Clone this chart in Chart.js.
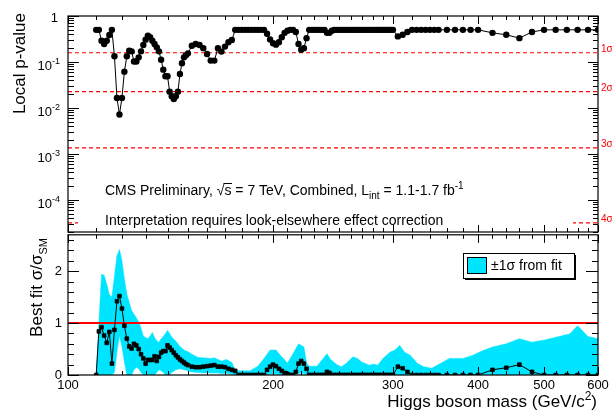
<!DOCTYPE html>
<html><head><meta charset="utf-8">
<script src="https://cdn.jsdelivr.net/npm/chart.js@4.4.0/dist/chart.umd.min.js"></script>
<style>
html,body{margin:0;padding:0;background:#fff;width:612px;height:412px;overflow:hidden;}
#wrap{position:relative;width:612px;height:412px;background:#fff;}
canvas{position:absolute;left:0;}
#cTop{top:0;}
#cBot{top:230px;}
</style></head><body>
<div id="wrap">
<canvas id="cTop" width="612" height="236"></canvas>
<canvas id="cBot" width="612" height="182"></canvas>
</div>
<script>
// ---------------- data ----------------
const masses = [110,111,112,113,114,115,116,117,118,119,120,121,122,123,124,125,126,127,128,129,130,
  131,132,133,134,135,136,137,138,139,140,141,142,143,144,145,146,147,148,149,150,
  152,154,156,158,160,162,164,166,168,170,172,174,176,178,180,182,184,186,188,190,
  192,194,196,198,200,202,204,206,208,210,212,214,216,218,220,222,224,226,228,230,
  232,234,236,238,240,242,244,246,248,250,252,254,256,258,260,262,264,266,268,270,
  272,274,276,278,280,282,284,286,288,290,292,294,296,298,300,
  305,310,315,320,325,330,335,340,345,350,360,370,380,390,400,
  420,440,460,480,500,520,540,560,580,600];
const pValue = [0.5,0.5,0.29,0.246,0.29,0.386,0.5,0.133,0.0165,0.0072,0.0165,0.0616,0.133,0.176,0.17,0.102,0.102,0.126,0.17,0.234,0.306,
  0.373,0.344,0.29,0.246,0.208,0.17,0.112,0.068,0.049,0.049,0.0226,0.0179,0.0157,0.0179,0.0226,0.0548,0.0935,0.126,0.14,0.154,
  0.226,0.246,0.234,0.2,0.149,0.107,0.107,0.2,0.168,0.216,0.268,0.30,0.5,0.5,0.5,0.5,0.5,0.5,0.5,0.5,
  0.5,0.5,0.41,0.31,0.255,0.238,0.268,0.344,0.43,0.48,0.5,0.5,0.45,0.246,0.185,0.2,0.33,0.5,0.5,0.5,
  0.5,0.5,0.5,0.5,0.43,0.43,0.48,0.5,0.5,0.5,0.5,0.5,0.5,0.5,0.5,0.5,0.5,0.5,0.5,0.5,
  0.5,0.5,0.5,0.5,0.5,0.5,0.5,0.5,0.5,0.5,0.5,0.5,0.5,0.5,0.5,
  0.36,0.39,0.45,0.5,0.5,0.5,0.5,0.5,0.5,0.5,0.5,0.5,0.5,0.5,0.5,
  0.43,0.39,0.33,0.45,0.5,0.5,0.5,0.5,0.5,0.5];
const bestFit = [0,0.84,0.92,0.76,0.62,0.83,0.22,0.87,1.42,1.52,1.28,0.95,0.70,0.55,0.51,0.60,0.57,0.50,0.40,0.32,0.22,
  0.29,0.29,0.29,0.36,0.27,0.35,0.43,0.46,0.46,0.57,0.53,0.48,0.43,0.38,0.34,0.30,0.27,0.24,0.21,0.19,
  0.16,0.15,0.15,0.16,0.17,0.18,0.19,0.16,0.16,0.15,0.12,0.10,0.08,0,0,0,0,0,0,0,
  0,0,0.10,0.16,0.20,0.17,0.12,0.08,0.04,0.02,0,0,0.06,0.22,0.27,0.22,0.12,0,0,0,
  0,0,0,0,0.06,0.04,0,0,0,0,0,0,0,0,0,0,0,0,0,0,
  0,0,0,0,0,0,0,0,0,0,0,0,0,0,0,
  0.16,0.13,0.06,0,0,0,0,0,0,0,0,0,0,0,0,
  0.10,0.14,0.20,0.06,0,0,0,0,0,0];
const bandMass = [110,111,112,113,114,115,116,117,118,119,120,121,122,123,124,125,126,127,128,129,130,
  131,132,133,134,135,136,137,138,139,140,141,142,144,146,148,150,152,155,158,162,164,166,168,171,174,
  176,178,185,190,194,198,202,205,210,214,218,222,224,226,232,237,240,243,248,252,256,262,266,270,
  277,281,285,290,297,302,307,312,318,326,333,342,352,363,380,393,405,420,440,460,480,503,533,545,560,580,600];
const bandLo = [0,0,0,0,0,0,0,0.05,0.45,0.75,0.55,0.25,0,0,0,0.10,0.15,0.12,0.05,0,0,
  0,0,0,0,0.05,0.10,0.08,0.05,0,0,0,0.05,0.10,0.12,0.10,0.08,0.06,0.05,0.04,0.04,0.04,0.04,0.03,0.03,0.02,
  0,0,0,0,0,0.02,0.02,0,0,0,0.03,0.03,0,0,0,0,0,0,0,0,0,0,0,0,
  0,0,0,0,0,0,0,0,0,0,0,0,0,0,0,0,0,0,0,0,0,0,0,0,0,0,0];
const bandHi = [0,1.0,1.94,1.92,1.75,1.55,1.5,1.9,2.3,2.42,2.2,1.85,1.56,1.4,1.24,1.17,1.1,1.02,0.9,0.75,0.72,
  0.7,0.75,0.82,0.72,0.66,0.63,0.7,0.74,0.8,0.86,0.8,0.73,0.65,0.55,0.48,0.45,0.40,0.34,0.33,0.32,0.33,0.30,0.27,0.30,0.24,
  0.10,0.08,0.08,0.17,0.32,0.48,0.48,0.38,0.23,0.41,0.60,0.54,0.23,0.17,0.17,0.32,0.41,0.30,0.20,0.16,0.22,0.35,0.32,0.25,
  0.19,0.21,0.19,0.32,0.44,0.48,0.57,0.44,0.38,0.22,0.16,0.13,0.22,0.32,0.32,0.38,0.46,0.54,0.60,0.70,0.63,0.68,0.76,0.79,0.95,0.74,0.70];
const sigmaP = [0.1587, 0.02275, 0.00135, 3.17e-5];
const sigmaLabels = ['1σ','2σ','3σ','4σ'];
const smLine = [1, 1];
const xLabelVals = [100,200,300,400,500,600];
const xMinorVals = [110,120,130,140,150,160,170,180,190,210,220,230,240,250,260,270,280,290,320,340,360,380,420,440,460,480,520,540,560,580];
const pDecades = [1, 0.1, 0.01, 0.001, 0.0001];
const pExponents = ['', '-1', '-2', '-3', '-4'];
const fitMajor = [0, 1, 2];
const fitMinor = [0.2,0.4,0.6,0.8,1.2,1.4,1.6,1.8,2.2,2.4,2.6];

// ---------------- helpers ----------------
const FONT = '"Liberation Sans", Arial, Helvetica, sans-serif';
const f = s => s + 'px ' + FONT;
const CYAN = 'rgb(0,229,255)';
const RED = 'rgb(255,0,0)';

function pMinor() {
  const out = [];
  for (let e = -5; e <= -1; e++) for (let k = 2; k <= 9; k++) out.push(k * Math.pow(10, e));
  return out.filter(v => v >= 2e-5 && v < 1);
}

function xTicks(ctx, xs, y, dir, maj, min) {
  ctx.beginPath();
  xLabelVals.forEach(v => { const p = Math.round(xs.getPixelForValue(v)) + 0.5; ctx.moveTo(p, y); ctx.lineTo(p, y + dir * maj); });
  xMinorVals.forEach(v => { const p = Math.round(xs.getPixelForValue(v)) + 0.5; ctx.moveTo(p, y); ctx.lineTo(p, y + dir * min); });
  ctx.stroke();
}
function yTicks(ctx, ys, x, dir, majVals, minVals, maj, min) {
  ctx.beginPath();
  majVals.forEach(v => { const p = Math.round(ys.getPixelForValue(v)) + 0.5; ctx.moveTo(x, p); ctx.lineTo(x + dir * maj, p); });
  minVals.forEach(v => { const p = Math.round(ys.getPixelForValue(v)) + 0.5; ctx.moveTo(x, p); ctx.lineTo(x + dir * min, p); });
  ctx.stroke();
}
function pieces(ctx, x, y, list) {
  list.forEach(pc => {
    ctx.font = f(pc.s);
    const w = ctx.measureText(pc.t).width;
    ctx.fillText(pc.t, x, y + (pc.dy || 0));
    if (pc.over) {
      ctx.save(); ctx.lineWidth = 1; ctx.beginPath();
      ctx.moveTo(x - 1, y - 11.5); ctx.lineTo(x + w + 0.5, y - 11.5); ctx.stroke(); ctx.restore();
    }
    x += w;
  });
  return x;
}
function widthOf(ctx, list) {
  let w = 0; list.forEach(pc => { ctx.font = f(pc.s); w += ctx.measureText(pc.t).width; }); return w;
}

// ---------------- top panel ----------------
const topDeco = {
  id: 'topDeco',
  afterDatasetsDraw(chart) {
    const {ctx, chartArea: a, scales: {x, y}} = chart;
    ctx.save();
    // text pave (white)
    ctx.fillStyle = '#fff';
    ctx.fillRect(78, 160, 495, 68);
    ctx.fillStyle = '#000'; ctx.strokeStyle = '#000';
    ctx.textBaseline = 'alphabetic'; ctx.textAlign = 'left';
    pieces(ctx, 105, 195, [
      {t: 'CMS Preliminary, ', s: 14}, {t: '√', s: 14}, {t: 's', s: 14, over: true},
      {t: ' = 7 TeV, Combined, L', s: 14}, {t: 'int', s: 10, dy: 4},
      {t: ' = 1.1-1.7 fb', s: 14}, {t: '-1', s: 10, dy: -6}]);
    ctx.font = f(14);
    ctx.fillText('Interpretation requires look-elsewhere effect correction', 105, 225);
    // sigma labels
    ctx.fillStyle = RED; ctx.font = f(10);
    sigmaP.forEach((p, i) => { ctx.fillText(sigmaLabels[i], 601, y.getPixelForValue(p) - 1); });
    // frame
    ctx.strokeStyle = '#000'; ctx.lineWidth = 1.2;
    ctx.strokeRect(a.left, a.top, a.right - a.left, a.bottom - a.top);
    ctx.lineWidth = 1;
    xTicks(ctx, x, a.top, 1, 8, 4);
    xTicks(ctx, x, a.bottom, -1, 7, 4);
    const mn = pMinor();
    yTicks(ctx, y, a.left, 1, pDecades, mn, 11, 6);
    yTicks(ctx, y, a.right, -1, pDecades, mn, 10, 5);
    // y labels
    ctx.fillStyle = '#000'; ctx.textAlign = 'right';
    pDecades.forEach((v, i) => {
      const py = y.getPixelForValue(v);
      if (!pExponents[i]) { ctx.font = f(13); ctx.fillText('1', 58, py + 6); return; }
      ctx.font = f(9); const ew = ctx.measureText(pExponents[i]).width;
      ctx.fillText(pExponents[i], 60, py + 2);
      ctx.font = f(13); ctx.fillText('10', 60 - ew, py + 8.5);
    });
    // y title
    ctx.save(); ctx.translate(25, 13); ctx.rotate(-Math.PI / 2);
    ctx.textAlign = 'right'; ctx.font = f(17); ctx.fillText('Local p-value', 0, 0);
    ctx.restore();
    ctx.restore();
  }
};

const topDatasets = [{
  data: masses.map((m, i) => ({x: m, y: pValue[i]})),
  borderColor: '#000', backgroundColor: '#000', borderWidth: 1,
  pointRadius: 3.2, pointBorderWidth: 0, pointBackgroundColor: '#000', tension: 0
}];
sigmaP.forEach(p => topDatasets.push({
  data: [{x: 100, y: p}, {x: 600, y: p}], borderColor: RED, backgroundColor: RED, borderWidth: 1.2,
  borderDash: [4, 3], pointRadius: 0, tension: 0, fill: false
}));

new Chart(document.getElementById('cTop'), {
  type: 'line',
  data: {datasets: topDatasets},
  options: {
    responsive: false, animation: false, events: [],
    layout: {padding: {left: 68, right: 14, top: 16, bottom: 3}},
    plugins: {legend: {display: false}, tooltip: {enabled: false}},
    scales: {
      x: {type: 'logarithmic', min: 100, max: 600, display: false},
      y: {type: 'logarithmic', min: 2e-5, max: 1, display: false}
    }
  },
  plugins: [topDeco]
});

// ---------------- bottom panel ----------------
const botDeco = {
  id: 'botDeco',
  afterDatasetsDraw(chart) {
    const {ctx, chartArea: a, scales: {x, y}} = chart;
    ctx.save();
    ctx.strokeStyle = '#000'; ctx.lineWidth = 1.2;
    ctx.strokeRect(a.left, a.top, a.right - a.left, a.bottom - a.top);
    ctx.lineWidth = 1;
    xTicks(ctx, x, a.top, 1, 8, 4);
    xTicks(ctx, x, a.bottom, -1, 8, 4);
    yTicks(ctx, y, a.left, 1, fitMajor, fitMinor, 11, 6);
    yTicks(ctx, y, a.right, -1, fitMajor, fitMinor, 12, 6);
    // legend
    const lx = 463, ly = 23, lw = 111, lh = 25;
    ctx.fillStyle = '#000'; ctx.fillRect(lx + 2, ly + 2, lw, lh);
    ctx.fillStyle = '#fff'; ctx.fillRect(lx, ly, lw, lh);
    ctx.strokeRect(lx + 0.5, ly + 0.5, lw, lh);
    ctx.fillStyle = CYAN; ctx.fillRect(467, 27, 19, 16);
    ctx.strokeRect(467.5, 27.5, 19, 16);
    ctx.fillStyle = '#000'; ctx.font = f(14); ctx.textAlign = 'left'; ctx.textBaseline = 'alphabetic';
    ctx.fillText('±1σ from fit', 491, 40);
    // y title
    const yt = [{t: 'Best fit σ/σ', s: 17}, {t: 'SM', s: 11, dy: 5}];
    const w = widthOf(ctx, yt);
    ctx.save(); ctx.translate(42, 8); ctx.rotate(-Math.PI / 2);
    pieces(ctx, -w, 0, yt);
    ctx.restore();
    // x title
    const xt = [{t: 'Higgs boson mass (GeV/c', s: 17}, {t: '2', s: 12, dy: -7}, {t: ')', s: 17}];
    const wx = widthOf(ctx, xt);
    pieces(ctx, 597 - wx, 176.5, xt);
    ctx.restore();
  }
};

new Chart(document.getElementById('cBot'), {
  type: 'line',
  data: {datasets: [
    {data: masses.map((m, i) => ({x: m, y: bestFit[i]})), borderColor: '#000', backgroundColor: '#000',
     borderWidth: 1, pointStyle: 'rect', pointRadius: 2.6, pointBorderWidth: 0.8, pointBackgroundColor: '#000', tension: 0},
    {data: [{x: 100, y: smLine[0]}, {x: 600, y: smLine[1]}], borderColor: RED, borderWidth: 2, pointRadius: 0, tension: 0},
    {data: bandMass.map((m, i) => ({x: m, y: bandHi[i]})), borderColor: CYAN, borderWidth: 0.5,
     backgroundColor: CYAN, fill: '+1', pointRadius: 0, tension: 0},
    {data: bandMass.map((m, i) => ({x: m, y: bandLo[i]})), borderColor: CYAN, borderWidth: 0.5,
     pointRadius: 0, fill: false, tension: 0}
  ]},
  options: {
    responsive: false, animation: false, events: [],
    layout: {padding: {left: 0, right: 14, top: 3, bottom: 0}},
    plugins: {legend: {display: false}, tooltip: {enabled: false}},
    scales: {
      x: {type: 'logarithmic', min: 100, max: 600, position: 'bottom',
          grid: {display: false, drawTicks: false}, border: {display: false},
          ticks: {autoSkip: false, maxRotation: 0, minRotation: 0, padding: 3, color: '#000',
                  font: {family: FONT, size: 13}, callback: v => String(v)},
          afterBuildTicks: s => { s.ticks = xLabelVals.map(v => ({value: v})); },
          afterFit: s => { s.height = 37; s.paddingLeft = 0; s.paddingRight = 0; }},
      y: {type: 'linear', min: 0, max: 2.7,
          grid: {display: false, drawTicks: false}, border: {display: false},
          ticks: {padding: 6, color: '#000', font: {family: FONT, size: 13}, callback: v => String(v)},
          afterBuildTicks: s => { s.ticks = fitMajor.map(v => ({value: v})); },
          afterFit: s => { s.width = 68; s.paddingTop = 0; s.paddingBottom = 0; }}
    }
  },
  plugins: [botDeco]
});
</script>
</body></html>
